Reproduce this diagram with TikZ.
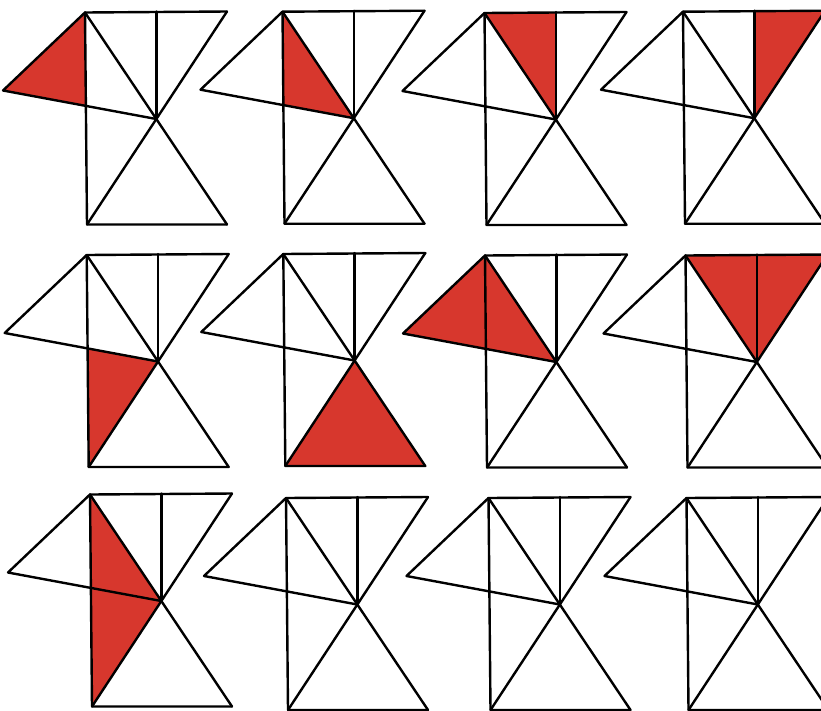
\documentclass[tikz,border=0pt]{standalone}
\definecolor{shade}{RGB}{215,55,45}
\tikzset{
  edge/.style={draw=black, line width=2.4pt, line join=round, line cap=round},
  part/.style={fill=shade}
}
\newcommand\kitefig[3]{%
  \begin{scope}[shift={(#1,#2)}]
    \coordinate (A) at (0,0);
    \coordinate (B) at (142,-1);
    \coordinate (C) at (2,212);
    \coordinate (D) at (142,212);
    \coordinate (L) at (-82,78);
    \coordinate (O) at (intersection of A--D and B--C);
    \coordinate (M) at (O |- B);
    \coordinate (P) at (intersection of L--O and A--C);
    #3
    \draw[edge] (A) -- (B);
    \draw[edge] (A) -- (C) -- (D);
    \draw[edge] (M) -- (O);
    \draw[edge] (A) -- (O) -- (D);
    \draw[edge] (B) -- (O) -- (C);
    \draw[edge] (A) -- (L) -- (O);
  \end{scope}%
}
\begin{document}
\begin{tikzpicture}[x=1pt,y=-1pt]
\useasboundingbox (0,0) rectangle (821,710);
\clip (0,0) rectangle (821,710);
\fill[white] (0,0) rectangle (821,710);
% row 1
\kitefig{85}{12.5}{\fill[part] (A) -- (L) -- (P) -- cycle;}
\kitefig{282.5}{11.7}{\fill[part] (A) -- (P) -- (O) -- cycle;}
\kitefig{484.5}{13}{\fill[part] (A) -- (M) -- (O) -- cycle;}
\kitefig{683}{11.7}{\fill[part] (M) -- (B) -- (O) -- cycle;}
% row 2
\kitefig{86.7}{255}{\fill[part] (P) -- (O) -- (C) -- cycle;}
\kitefig{283.3}{254}{\fill[part] (O) -- (C) -- (D) -- cycle;}
\kitefig{485}{255.5}{\fill[part] (A) -- (L) -- (O) -- cycle;}
\kitefig{685.5}{255.5}{\fill[part] (A) -- (B) -- (O) -- cycle;}
% row 3
\kitefig{90}{494.5}{\fill[part] (A) -- (O) -- (C) -- cycle;}
\kitefig{286}{498}{}
\kitefig{488.5}{498}{}
\kitefig{686.5}{498}{}
\end{tikzpicture}
\end{document}
